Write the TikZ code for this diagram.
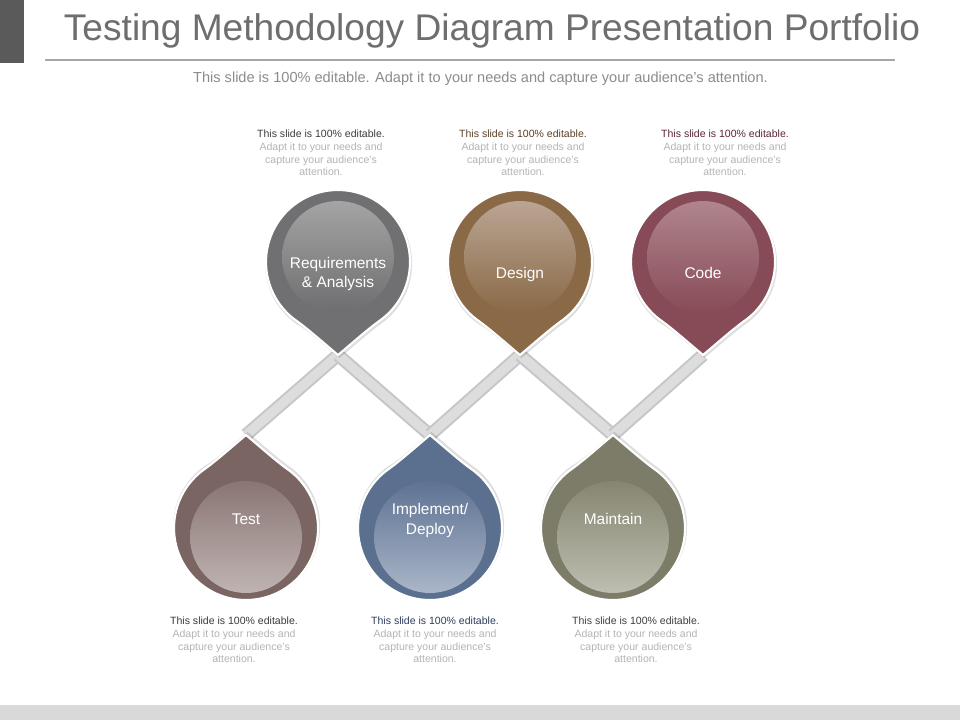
\documentclass[tikz,border=0pt]{standalone}
\usepackage{fontspec}
\setmainfont{Liberation Sans}
\usepackage{graphicx}
\definecolor{titlegray}{HTML}{6E6E6E}
\definecolor{subgray}{HTML}{8C8C8C}
\definecolor{lightnote}{HTML}{B4B4B4}
\definecolor{darkbox}{HTML}{5A5A5A}
\definecolor{rulegray}{HTML}{A6A6A6}
\definecolor{bottombar}{HTML}{D9D9D9}
\definecolor{barA}{HTML}{C6C6C6}
\definecolor{barB}{HTML}{DDDDDD}
\definecolor{reqO}{HTML}{707072}\definecolor{reqIt}{HTML}{A4A4A4}\definecolor{reqIb}{HTML}{6E6E70}\definecolor{reqD}{HTML}{3C3C3C}
\definecolor{desO}{HTML}{8A6946}\definecolor{desIt}{HTML}{BAA593}\definecolor{desIb}{HTML}{8A6946}\definecolor{desD}{HTML}{5C4126}
\definecolor{codO}{HTML}{874B57}\definecolor{codIt}{HTML}{B0858D}\definecolor{codIb}{HTML}{874B57}\definecolor{codD}{HTML}{5A2634}
\definecolor{tstO}{HTML}{7A6562}\definecolor{tstIt}{HTML}{8A7673}\definecolor{tstIb}{HTML}{BFB4B3}\definecolor{tstD}{HTML}{3A3A3A}
\definecolor{impO}{HTML}{5B6F8F}\definecolor{impIt}{HTML}{5E7292}\definecolor{impIb}{HTML}{AAB6C8}\definecolor{impD}{HTML}{2E3D5C}
\definecolor{mntO}{HTML}{7C7C69}\definecolor{mntIt}{HTML}{858571}\definecolor{mntIb}{HTML}{BEBEB1}\definecolor{mntD}{HTML}{3E3E3E}
\tikzset{
  pinlabel/.style={text=white,font=\fontsize{11.6}{14.3}\selectfont,align=center,inner sep=0pt},
  note/.style={text=lightnote,font=\fontsize{7.9}{9.5}\selectfont,align=center,inner sep=0pt,anchor=north},
  barline/.style={line width=10pt,color=barA,line cap=butt},
  barinner/.style={line width=7pt,color=barB,line cap=butt},
  pinedge/.style={draw=white,line width=1.6pt},
}
% x, y, dir, outer, inner top, inner bottom, inner offset
\newcommand\droppin[7]{%
  \begin{scope}[shift={(#1,#2)}]
    \begin{scope}[yscale=#3]
      \fill[black,opacity=0.13] (1.5,96) .. controls (13.5,86) and (31.5,70) .. (42.8,62)
        arc[start angle=55,end angle=-235,radius=73.5] .. controls (-27.5,70) and (-10.5,86) .. (1.5,96) -- cycle;
      \path[pinedge,fill=#4] (0,93) .. controls (12,83) and (30,67) .. (55:72)
        arc[start angle=55,end angle=-235,radius=72] .. controls (-30,67) and (-12,83) .. (0,93) -- cycle;
    \end{scope}
    \shade[top color=#5,bottom color=#6] (0,#7) circle[radius=56];
  \end{scope}}
\begin{document}
\begin{tikzpicture}[x=0.75pt,y=-0.75pt]
\useasboundingbox (0,0) rectangle (960,720);
\fill[white] (0,0) rectangle (960,720);
% header
\fill[darkbox] (0,0) rectangle (24,63);
\node[anchor=base,text=titlegray,inner sep=0pt] (title) at (492,41)
  {\resizebox{642pt}{!}{Testing Methodology Diagram Presentation Portfolio}};
\draw[rulegray,line width=1.2pt] (45,60) -- (895,60);
\node[anchor=base,text=subgray,inner sep=0pt] (subtitle) at (480.5,83)
  {\resizebox{431pt}{!}{This slide is 100\% editable. Adapt it to your needs and capture your audience's attention.}};
\fill[bottombar] (0,705) rectangle (960,720);
% tips
\coordinate (reqtip) at (338,355);
\coordinate (destip) at (520,355);
\coordinate (codtip) at (703,355);
\coordinate (tsttip) at (246,435);
\coordinate (imptip) at (430,435);
\coordinate (mnttip) at (613,435);
% bars
\foreach \a/\b in {tsttip/reqtip,reqtip/imptip,imptip/destip,destip/mnttip,mnttip/codtip}{
  \draw[barline] (\a) -- (\b);
  \draw[barinner] (\a) -- (\b);
}
% pins
\droppin{338}{262}{1}{reqO}{reqIt}{reqIb}{-5}
\droppin{520}{262}{1}{desO}{desIt}{desIb}{-5}
\droppin{703}{262}{1}{codO}{codIt}{codIb}{-5}
\droppin{246}{528}{-1}{tstO}{tstIt}{tstIb}{9}
\droppin{430}{528}{-1}{impO}{impIt}{impIb}{9}
\droppin{613}{528}{-1}{mntO}{mntIt}{mntIb}{9}
% labels
\node[pinlabel] (req) at (338,274) {Requirements\\\& Analysis};
\node[pinlabel] (des) at (520,274.5) {Design};
\node[pinlabel] (cod) at (703,273) {Code};
\node[pinlabel] (tst) at (246,519) {Test};
\node[pinlabel] (imp) at (430,520.5) {Implement/\\Deploy};
\node[pinlabel] (mnt) at (613,519) {Maintain};
% notes
\node[note] (reqnote) at (321,130) {{\color{reqD}This slide is 100\% editable.}\\Adapt it to your needs and\\capture your audience's\\attention.};
\node[note] (desnote) at (523,130) {{\color{desD}This slide is 100\% editable.}\\Adapt it to your needs and\\capture your audience's\\attention.};
\node[note] (codnote) at (725,130) {{\color{codD}This slide is 100\% editable.}\\Adapt it to your needs and\\capture your audience's\\attention.};
\node[note] (tstnote) at (234,617) {{\color{tstD}This slide is 100\% editable.}\\Adapt it to your needs and\\capture your audience's\\attention.};
\node[note] (impnote) at (435,617) {{\color{impD}This slide is 100\% editable.}\\Adapt it to your needs and\\capture your audience's\\attention.};
\node[note] (mntnote) at (636,617) {{\color{mntD}This slide is 100\% editable.}\\Adapt it to your needs and\\capture your audience's\\attention.};
\end{tikzpicture}
\end{document}
